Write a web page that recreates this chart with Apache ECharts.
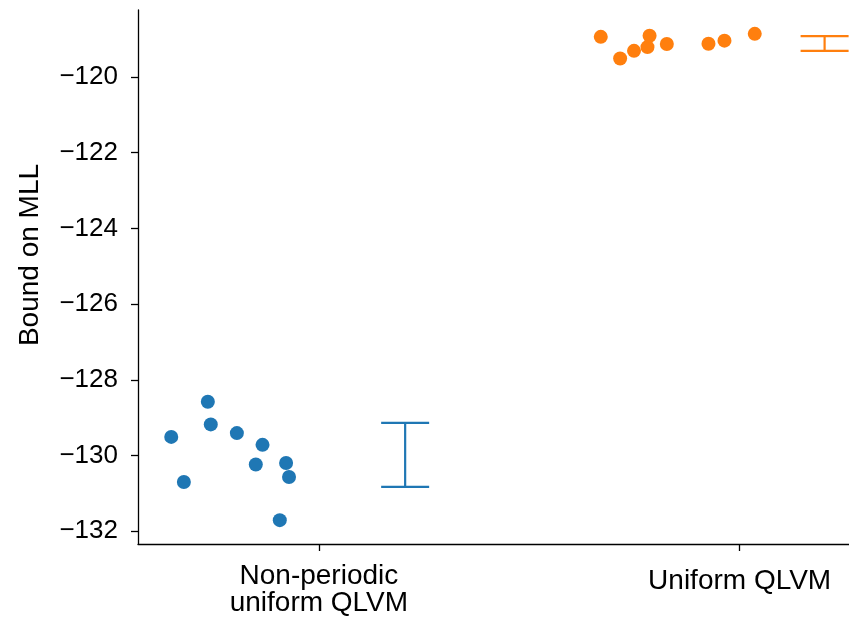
<!DOCTYPE html>
<html>
<head>
<meta charset="utf-8">
<script src="https://cdn.jsdelivr.net/npm/echarts@6/dist/echarts.min.js"></script>
<style>
  html, body { margin: 0; padding: 0; background: #fff; }
  #chart { width: 849px; height: 623px; }
</style>
</head>
<body>
<div id="chart"></div>
<script>
var categories = ['Non-periodic\nuniform QLVM', 'Uniform QLVM'];
var categoryPos = [0, 1];
var yTicks = [-132, -130, -128, -126, -124, -122, -120];
var yTitle = 'Bound on MLL';

// jittered runs, x offset from the category position
var blueX = [-0.351, -0.264, -0.257, -0.195, -0.134, -0.150, -0.078, -0.071, -0.321, -0.093];
var blueY = [-129.51, -128.58, -129.18, -129.41, -129.72, -130.24, -130.20, -130.57, -130.70, -131.71];
var orangeX = [0.670, 0.716, 0.749, 0.781, 0.786, 0.827, 0.926, 0.964, 1.036];
var orangeY = [-118.94, -119.51, -119.31, -119.21, -118.91, -119.13, -119.12, -119.04, -118.86];

// error bars
var errX = [0.205, 1.202];
var errLow = [-130.83, -119.31];
var errHigh = [-129.14, -118.92];
var colors = ['#1f77b4', '#ff7f0e'];

var font = "'Liberation Sans', Arial, sans-serif";

var chartDom = document.getElementById('chart');
var myChart = echarts.init(chartDom);

function zip(a, b) {
  return a.map(function (v, i) { return [v, b[i]]; });
}

var errData = errX.map(function (x, i) {
  return [x, errLow[i], errHigh[i]];
});

var option = {
  animation: false,
  grid: { left: 138, right: 0, top: 10, bottom: 79 },
  graphic: [{
    type: 'text',
    x: 30,
    y: 255,
    rotation: Math.PI / 2,
    style: {
      text: yTitle,
      fill: '#000',
      font: '28px ' + font,
      align: 'center',
      verticalAlign: 'middle'
    }
  }],
  xAxis: {
    type: 'value',
    min: -0.430,
    max: 1.260,
    splitLine: { show: false },
    axisLine: { show: true, onZero: false, lineStyle: { color: '#000', width: 1.3 } },
    axisTick: { show: true, length: 7, customValues: categoryPos, lineStyle: { color: '#000', width: 1.3 } },
    axisLabel: {
      customValues: categoryPos,
      margin: 19,
      color: '#000',
      fontSize: 28,
      fontFamily: font,
      lineHeight: 27,
      formatter: function (v) {
        var i = categoryPos.indexOf(v);
        if (i === 1) return '{s|' + categories[i] + '}';
        return categories[i];
      },
      rich: {
        s: { fontSize: 28, fontFamily: font, color: '#000', lineHeight: 27, padding: [10, 0, 0, 0] }
      }
    }
  },
  yAxis: {
    type: 'value',
    min: -132.34,
    max: -118.23,
    splitLine: { show: false },
    axisLine: { show: true, onZero: false, lineStyle: { color: '#000', width: 1.3 } },
    axisTick: { show: true, length: 7, customValues: yTicks, lineStyle: { color: '#000', width: 1.3 } },
    axisLabel: {
      customValues: yTicks,
      margin: 20,
      color: '#000',
      fontSize: 26,
      fontFamily: font,
      formatter: function (v) { return String(v).replace('-', '\u2212'); }
    }
  },
  series: [
    {
      type: 'scatter',
      data: zip(blueX, blueY),
      symbolSize: 14,
      itemStyle: { color: colors[0], opacity: 1 }
    },
    {
      type: 'scatter',
      data: zip(orangeX, orangeY),
      symbolSize: 14,
      itemStyle: { color: colors[1], opacity: 1 }
    },
    {
      type: 'custom',
      data: errData,
      encode: { x: 0, y: [1, 2] },
      renderItem: function (params, api) {
        var x = api.value(0);
        var top = api.coord([x, api.value(2)]);
        var bot = api.coord([x, api.value(1)]);
        var w = 24;
        var style = { stroke: colors[params.dataIndex], lineWidth: 2.2 };
        return {
          type: 'group',
          children: [
            { type: 'line', shape: { x1: top[0], y1: top[1], x2: bot[0], y2: bot[1] }, style: style },
            { type: 'line', shape: { x1: top[0] - w, y1: top[1], x2: top[0] + w, y2: top[1] }, style: style },
            { type: 'line', shape: { x1: bot[0] - w, y1: bot[1], x2: bot[0] + w, y2: bot[1] }, style: style }
          ]
        };
      }
    }
  ]
};

option && myChart.setOption(option);
</script>
</body>
</html>
